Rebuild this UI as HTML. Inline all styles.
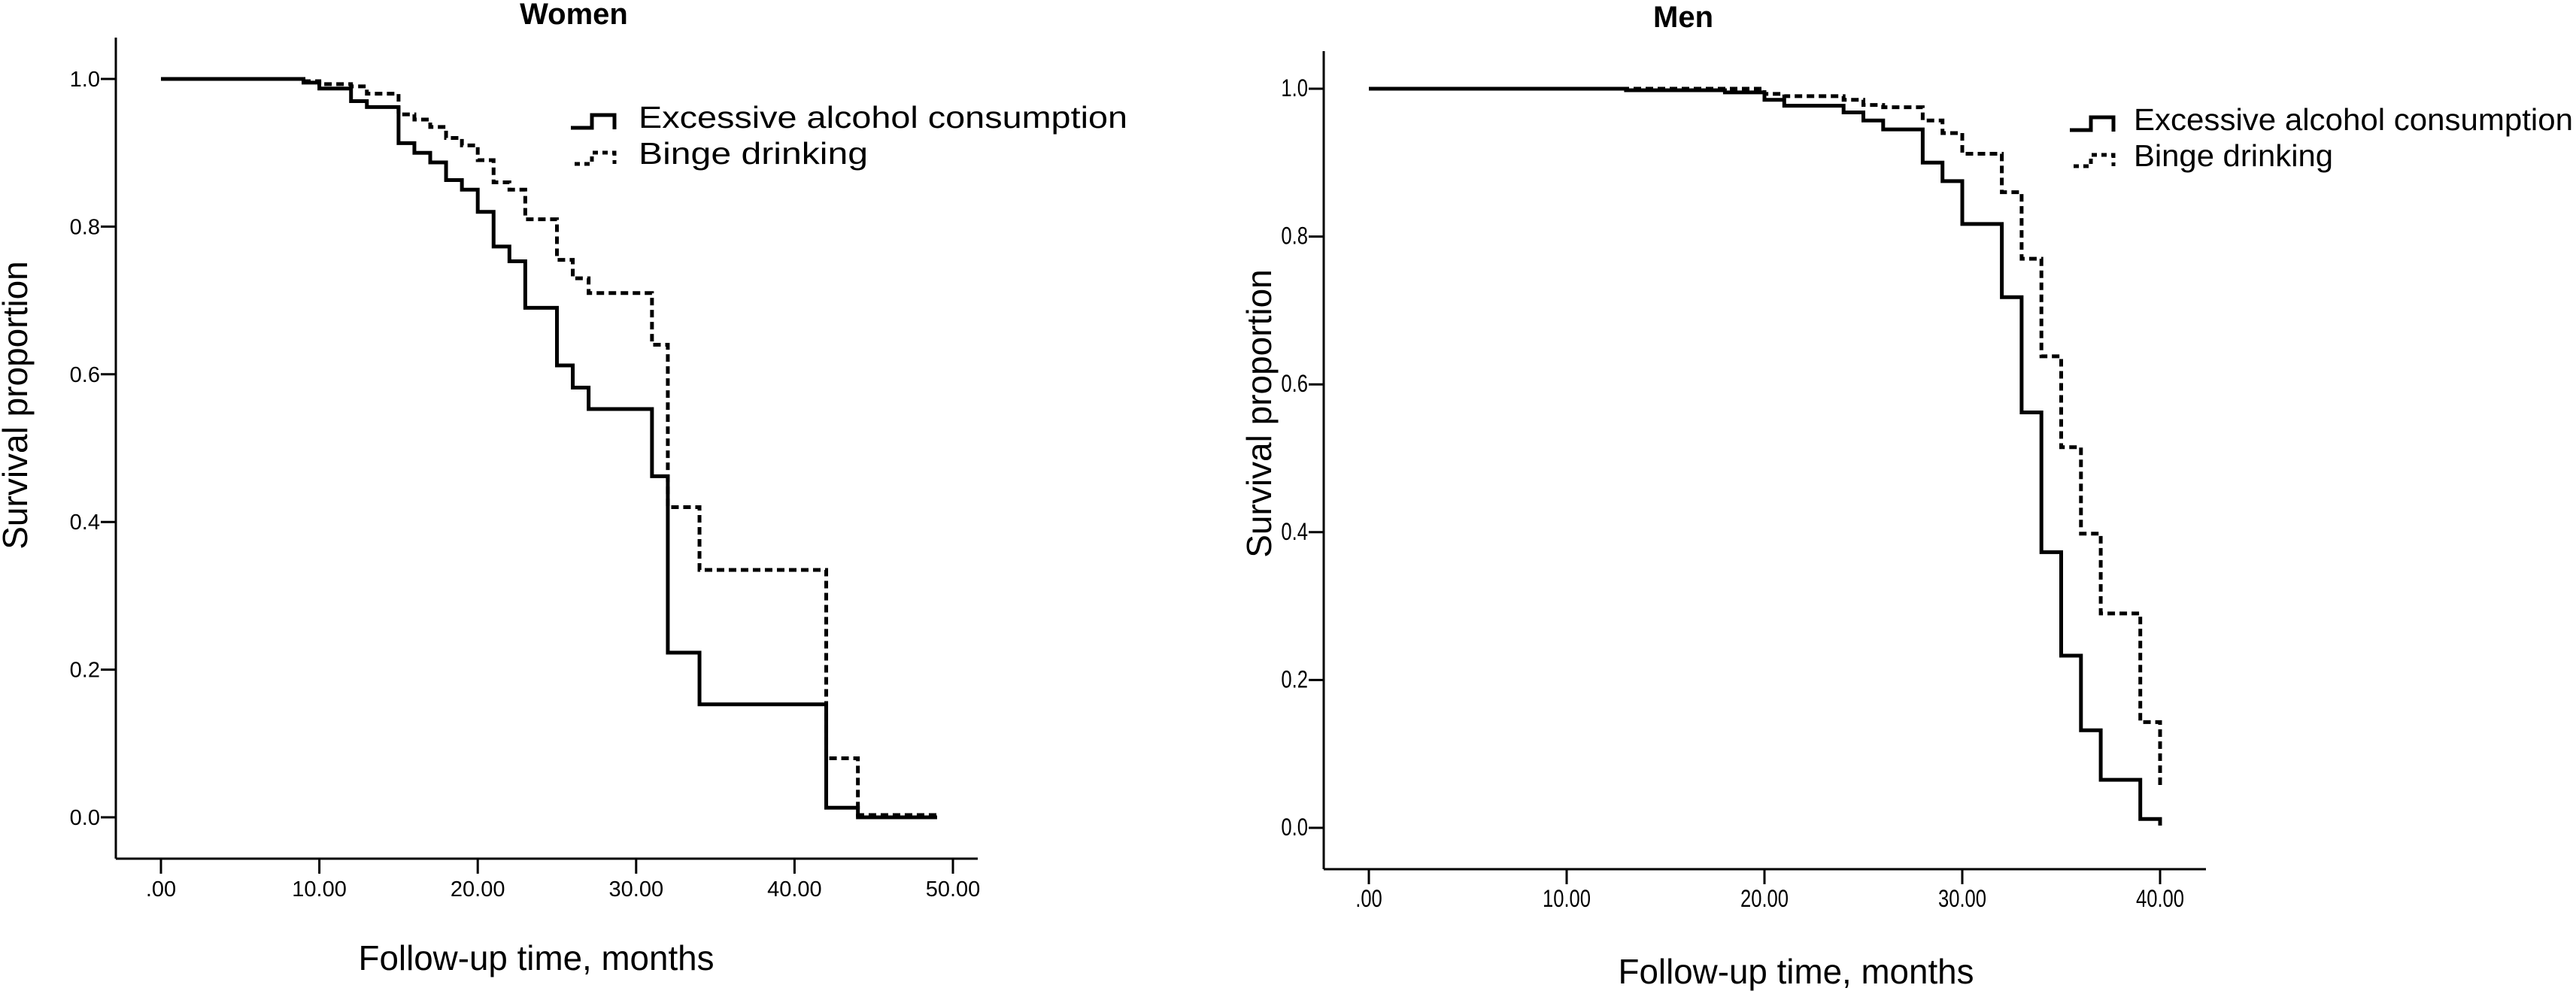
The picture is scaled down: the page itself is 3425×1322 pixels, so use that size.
<!DOCTYPE html>
<html><head><meta charset="utf-8"><style>
html,body{margin:0;padding:0;background:#fff;}
svg{display:block;font-family:"Liberation Sans",Arial,sans-serif;}
</style></head><body>
<svg id="chart" width="3425" height="1322" viewBox="0 0 3425 1322" xmlns="http://www.w3.org/2000/svg"></svg>
<script>
// Women
const womenExcTimes = [0,9,10,12,13,15,16,17,18,19,20,21,22,23,25,26,27,31,32,34,42,44,49];
const womenExcSurv  = [1.0,0.995,0.987,0.97,0.962,0.913,0.90,0.887,0.863,0.85,0.82,0.773,0.753,0.69,0.612,0.582,0.553,0.462,0.223,0.153,0.013,0.0,0.0];
const womenBingeTimes = [0,9,10,12,13,15,16,17,18,19,20,21,22,23,25,26,27,31,32,34,42,44,49];
const womenBingeSurv  = [1.0,0.997,0.993,0.99,0.98,0.952,0.945,0.935,0.92,0.91,0.89,0.86,0.85,0.81,0.755,0.73,0.71,0.64,0.42,0.335,0.08,0.003,0.003];
// Men
const menExcTimes = [0,13,18,20,21,24,25,26,28,29,30,32,33,34,35,36,37,39,40];
const menExcSurv  = [1.0,0.998,0.995,0.985,0.977,0.968,0.957,0.945,0.90,0.875,0.817,0.718,0.562,0.373,0.233,0.132,0.065,0.012,0.003];
const menBingeTimes = [0,20,21,24,25,26,28,29,30,32,33,34,35,36,37,39,40];
const menBingeSurv  = [1.0,0.993,0.99,0.985,0.978,0.975,0.957,0.94,0.912,0.86,0.77,0.638,0.515,0.398,0.29,0.143,0.055];
const womenXTicks = [0,10,20,30,40,50];
const womenXLabels = [".00","10.00","20.00","30.00","40.00","50.00"];
const menXTicks = [0,10,20,30,40];
const menXLabels = [".00","10.00","20.00","30.00","40.00"];
const yTicks = [0,0.2,0.4,0.6,0.8,1.0];
const yLabels = ["0.0","0.2","0.4","0.6","0.8","1.0"];

const NS="http://www.w3.org/2000/svg";
const svg=document.getElementById('chart');
function mk(tag,attrs,parent){const e=document.createElementNS(NS,tag);for(const k in attrs)e.setAttribute(k,attrs[k]);(parent||svg).appendChild(e);return e;}

function panel(cfg){
  const g=mk('g',{});
  
  
  const sx=t=>cfg.x0+t*cfg.xu;
  const sy=v=>cfg.y0-v*(cfg.y0-cfg.y1);
  // axes
  const ya=mk('line',{x1:cfg.ax,y1:cfg.axTop,x2:cfg.ax,y2:cfg.ay,stroke:'#000','stroke-width':3},g);
  
  
  const xa=mk('line',{x1:cfg.ax,y1:cfg.ay,x2:cfg.axRight,y2:cfg.ay,stroke:'#000','stroke-width':3},g);
  
  
  yTicks.forEach((v,i)=>{
    mk('line',{x1:cfg.ax-20,y1:sy(v),x2:cfg.ax,y2:sy(v),stroke:'#000','stroke-width':3},g);
    const t=mk('text',{x:cfg.ax-21,y:sy(v)+10,'text-anchor':'end','font-size':cfg.tickFs},g);
    
    
    if(cfg.cond) t.setAttribute('transform',`translate(${cfg.ax-21},0) scale(0.8,1) translate(${-(cfg.ax-21)},0)`);
    t.textContent=yLabels[i];
  });
  cfg.xt.forEach((v,i)=>{
    mk('line',{x1:sx(v),y1:cfg.ay,x2:sx(v),y2:cfg.ay+20,stroke:'#000','stroke-width':3},g);
    const t=mk('text',{x:sx(v),y:cfg.ay+50,'text-anchor':'middle','font-size':cfg.tickFs},g);
    
    
    if(cfg.cond) t.setAttribute('transform',`translate(${sx(v)},0) scale(0.8,1) translate(${-sx(v)},0)`);
    t.textContent=cfg.xl[i];
  });
  // series
  function step(times,surv,dash,nm){
    let d=`M${sx(times[0])},${sy(surv[0])}`;
    for(let i=1;i<times.length;i++){d+=` H${sx(times[i])} V${sy(surv[i])}`;}
    const p=mk('path',{d:d,fill:'none',stroke:'#000','stroke-width':5,'stroke-dasharray':dash?'10 6':'none'},g);
    
    
  }
  step(cfg.bt,cfg.bs,true,'binge-drinking-curve');
  step(cfg.et,cfg.es,false,'excessive-alcohol-curve');
  // title
  const ti=mk('text',{x:cfg.tx,y:cfg.ty,'text-anchor':'middle','font-size':40,'font-weight':'bold'},g);
  
  
  ti.textContent=cfg.title;
  const xt=mk('text',{x:cfg.xtx,y:cfg.xty,'text-anchor':'middle','font-size':46,textLength:473,lengthAdjust:'spacingAndGlyphs'},g);
  
  
  xt.textContent='Follow-up time, months';
  const yt=mk('text',{x:0,y:0,'text-anchor':'middle','font-size':46,transform:`translate(${cfg.ytx},${cfg.yty}) rotate(-90)`},g);
  
  
  yt.textContent='Survival proportion';
  // legend
  const lg=mk('g',{},g);
  
  
  const lx=cfg.lx, ly=cfg.ly;
  mk('path',{d:`M${lx},${ly+17} H${lx+28} V${ly} H${lx+58} V${ly+19}`,fill:'none',stroke:'#000','stroke-width':5},lg);
  mk('path',{d:`M${lx+5},${ly+65} H${lx+28} V${ly+50} H${lx+58} V${ly+65}`,fill:'none',stroke:'#000','stroke-width':5,'stroke-dasharray':'7 6'},lg);
  const l1=mk('text',{x:cfg.ltx,y:ly+17,'font-size':41,textLength:cfg.lw1,lengthAdjust:'spacingAndGlyphs'},lg);
  
  
  l1.textContent='Excessive alcohol consumption';
  const l2=mk('text',{x:cfg.ltx,y:ly+65,'font-size':41,textLength:cfg.lw2,lengthAdjust:'spacingAndGlyphs'},lg);
  
  
  l2.textContent='Binge drinking';
}

panel({name:'women-panel',title:'Women',x0:214,xu:21.06,y0:1087,y1:105,ax:154,axTop:50,ay:1142,axRight:1300,
  xt:womenXTicks,xl:womenXLabels,tickFs:29,cond:false,
  et:womenExcTimes,es:womenExcSurv,bt:womenBingeTimes,bs:womenBingeSurv,
  tx:763,ty:32,xtx:713,xty:1290,ytx:36,yty:539,lx:759,ly:153,ltx:849,lw1:650,lw2:305});
panel({name:'men-panel',title:'Men',x0:1820,xu:26.3,y0:1101,y1:118,ax:1760,axTop:68,ay:1156,axRight:2933,
  xt:menXTicks,xl:menXLabels,tickFs:32,cond:true,
  et:menExcTimes,es:menExcSurv,bt:menBingeTimes,bs:menBingeSurv,
  tx:2238,ty:36,xtx:2388,xty:1308,ytx:1690,yty:550,lx:2752,ly:156,ltx:2837,lw1:584,lw2:265});
</script>
</body></html>
